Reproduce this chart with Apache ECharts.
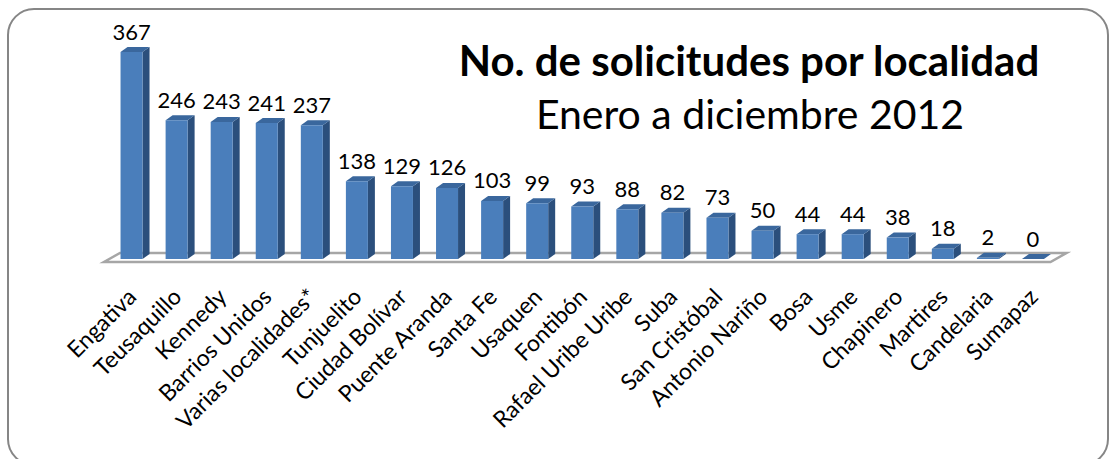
<!DOCTYPE html>
<html><head><meta charset="utf-8">
<script src="https://cdn.jsdelivr.net/npm/echarts@6/dist/echarts.min.js"></script>
<style>html,body{margin:0;padding:0;background:#fff}#c{width:1110px;height:459px}</style>
</head><body><div id="c"></div>
<script>
const categories = ['Engativa','Teusaquillo','Kennedy','Barrios Unidos','Varias localidades*','Tunjuelito','Ciudad Bolívar','Puente Aranda','Santa Fe','Usaquen','Fontibón','Rafael Uribe Uribe','Suba','San Cristóbal','Antonio Nariño','Bosa','Usme','Chapinero','Martires','Candelaria','Sumapaz'];
const values = [367,246,243,241,237,138,129,126,103,99,93,88,82,73,50,44,44,38,18,2,0];
const titleText = 'No. de solicitudes por localidad';
const subtitleText = 'Enero a diciembre 2012';

const FRONT = '#4a7ebb', SIDE = '#2b4f7c', TOP = '#3a679d';
const FONT = 'Lato, "Open Sans", sans-serif';

function renderBar(params, api) {
  const i = api.value(0), v = api.value(1);
  const p = api.coord([i, v]);
  const b = api.coord([i, 0]);
  const w = 22, dx = 7, dy = 5;
  const x0 = p[0] - w / 2, x1 = x0 + w;
  const yt = p[1], yb = b[1];
  return {
    type: 'group',
    children: [
      { type: 'polygon', shape: { points: [[x1, yt], [x1 + dx, yt - dy], [x1 + dx, yb - dy], [x1, yb]] }, style: { fill: SIDE } },
      { type: 'polygon', shape: { points: [[x0, yt], [x1, yt], [x1 + dx, yt - dy], [x0 + dx, yt - dy]] }, style: { fill: TOP } },
      { type: 'rect', shape: { x: x0, y: yt, width: w, height: Math.max(0, yb - yt) }, style: { fill: FRONT } },
      { type: 'text', x: p[0], y: yt - dy - 5, style: { text: String(v), align: 'center', verticalAlign: 'bottom', font: '22px ' + FONT, fill: '#000' } }
    ]
  };
}

function renderFloor(params, api) {
  const a = api.coord([0, 0]);
  const z = api.coord([categories.length - 1, 0]);
  const bw = api.size([1, 0])[0];
  const L = a[0] - bw / 2, R = z[0] + bw / 2, y = a[1];
  return {
    type: 'polygon',
    shape: { points: [[L - 5, y + 3], [R - 5, y + 3], [R + 11, y - 6], [L + 11, y - 6]] },
    style: { fill: '#fff', stroke: '#a6a6a6', lineWidth: 2.5 }
  };
}

const chart = echarts.init(document.getElementById('c'), null, { renderer: 'svg' });
chart.setOption({
  animation: false,
  backgroundColor: '#fff',
  graphic: [{
    type: 'rect', z: -10,
    shape: { x: 8, y: 9, width: 1100, height: 456, r: 26 },
    style: { fill: 'none', stroke: '#868686', lineWidth: 2 }
  }],
  title: [
    { text: titleText, left: 744, top: 34, textAlign: 'center',
      textStyle: { fontFamily: FONT, fontWeight: 'bold', fontSize: 42, color: '#000' } },
    { text: subtitleText, left: 745, top: 88, textAlign: 'center',
      textStyle: { fontFamily: FONT, fontWeight: 'normal', fontSize: 41, color: '#000' } }
  ],
  grid: { left: 109, right: 54.5, top: 33.4, bottom: 200 },
  xAxis: {
    type: 'category', data: categories,
    axisLine: { show: false }, axisTick: { show: false },
    axisLabel: { interval: 0, rotate: 45, margin: 33, fontFamily: FONT, fontSize: 23, color: '#000' }
  },
  yAxis: { type: 'value', min: 0, max: 400, show: false, splitLine: { show: false } },
  series: [
    { type: 'custom', renderItem: renderFloor, data: [[0, 0]], z: 1, silent: true },
    { type: 'custom', renderItem: renderBar, data: values.map((v, i) => [i, v]), z: 2, encode: { x: 0, y: 1 } }
  ]
});
</script></body></html>
